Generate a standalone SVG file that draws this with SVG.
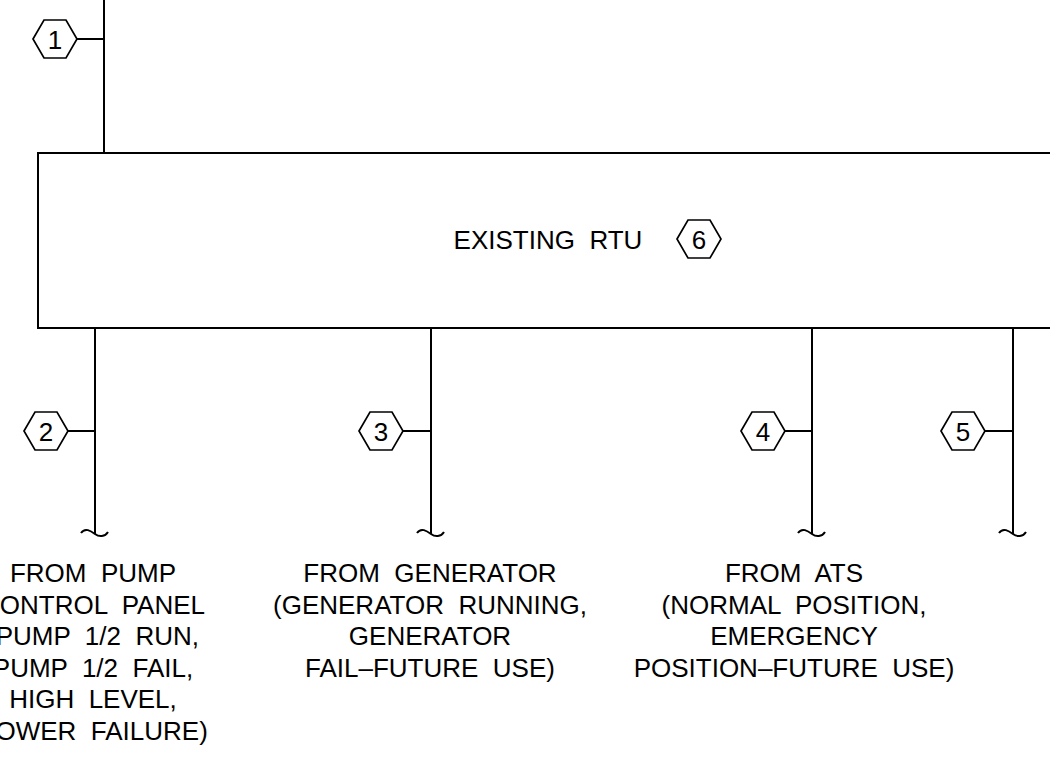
<svg xmlns="http://www.w3.org/2000/svg" width="1050" height="760" viewBox="0 0 1050 760">
  <style>
    .ln { stroke: #000; stroke-width: 2; fill: none; }
    .hex { stroke: #000; stroke-width: 1.7; fill: #fff; stroke-linejoin: miter; }
    .t { font-family: "Liberation Sans", Arial, sans-serif; font-size: 26px; fill: #000; text-anchor: middle; }
  </style>
  <defs>
    <polygon id="hexshape" points="-22,0 -11,-19 11,-19 22,0 11,19 -11,19"/>
    <path id="cut" d="M -14,533 C -10,527 -4,531 0,534 C 4,537 10,537 13,532"/>
  </defs>
  <rect width="1050" height="760" fill="#fff"/>

  <g id="connectors">
    <line class="ln" x1="104" y1="0" x2="104" y2="153"/>
    <line class="ln" x1="77" y1="39" x2="104" y2="39"/>
    <line class="ln" x1="95" y1="328" x2="95" y2="534"/>
    <line class="ln" x1="68" y1="431" x2="95" y2="431"/>
    <line class="ln" x1="431" y1="328" x2="431" y2="534"/>
    <line class="ln" x1="403" y1="431" x2="431" y2="431"/>
    <line class="ln" x1="812" y1="328" x2="812" y2="534"/>
    <line class="ln" x1="785" y1="431" x2="812" y2="431"/>
    <line class="ln" x1="1013" y1="328" x2="1013" y2="534"/>
    <line class="ln" x1="985" y1="431" x2="1013" y2="431"/>
    <use href="#cut" class="ln" transform="translate(95,0)"/>
    <use href="#cut" class="ln" transform="translate(431,0)"/>
    <use href="#cut" class="ln" transform="translate(812,0)"/>
    <use href="#cut" class="ln" transform="translate(1013,0)"/>
  </g>

  <g id="rtu">
    <rect class="ln" x="38" y="153" width="1030" height="175"/>
    <text class="t" x="548" y="249" xml:space="preserve">EXISTING  RTU</text>
    <use href="#hexshape" class="hex" transform="translate(699,239)"/>
    <text class="t" x="699" y="248.5">6</text>
  </g>

  <g id="tag1">
    <use href="#hexshape" class="hex" transform="translate(55,39)"/>
    <text class="t" x="55" y="48.5">1</text>
  </g>
  <g id="tag2">
    <use href="#hexshape" class="hex" transform="translate(46,431)"/>
    <text class="t" x="46" y="440.5">2</text>
  </g>
  <g id="tag3">
    <use href="#hexshape" class="hex" transform="translate(381,431)"/>
    <text class="t" x="381" y="440.5">3</text>
  </g>
  <g id="tag4">
    <use href="#hexshape" class="hex" transform="translate(763,431)"/>
    <text class="t" x="763" y="440.5">4</text>
  </g>
  <g id="tag5">
    <use href="#hexshape" class="hex" transform="translate(963,431)"/>
    <text class="t" x="963" y="440.5">5</text>
  </g>

  <g id="label-pump">
    <text class="t" x="93" y="582" xml:space="preserve">FROM  PUMP</text>
    <text class="t" x="93" y="613.5" xml:space="preserve">CONTROL  PANEL</text>
    <text class="t" x="93" y="645" xml:space="preserve">(PUMP  1/2  RUN,</text>
    <text class="t" x="93" y="676.5" xml:space="preserve">PUMP  1/2  FAIL,</text>
    <text class="t" x="93" y="708" xml:space="preserve">HIGH  LEVEL,</text>
    <text class="t" x="93" y="739.5" xml:space="preserve">POWER  FAILURE)</text>
  </g>

  <g id="label-generator">
    <text class="t" x="430" y="582" xml:space="preserve">FROM  GENERATOR</text>
    <text class="t" x="430" y="613.5" xml:space="preserve">(GENERATOR  RUNNING,</text>
    <text class="t" x="430" y="645" xml:space="preserve">GENERATOR</text>
    <text class="t" x="430" y="676.5" xml:space="preserve">FAIL–FUTURE  USE)</text>
  </g>

  <g id="label-ats">
    <text class="t" x="794" y="582" xml:space="preserve">FROM  ATS</text>
    <text class="t" x="794" y="613.5" xml:space="preserve">(NORMAL  POSITION,</text>
    <text class="t" x="794" y="645" xml:space="preserve">EMERGENCY</text>
    <text class="t" x="794" y="676.5" xml:space="preserve">POSITION–FUTURE  USE)</text>
  </g>
</svg>
